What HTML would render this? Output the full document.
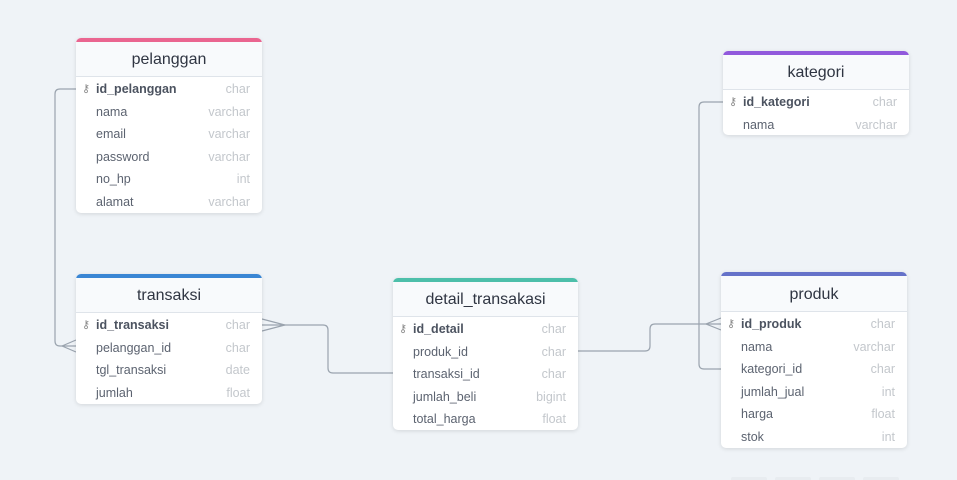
<!DOCTYPE html>
<html><head><meta charset="utf-8"><style>
body{margin:0;width:957px;height:480px;background:#eff3f7;position:relative;overflow:hidden;font-family:"Liberation Sans",sans-serif}
.t{position:absolute;background:#fff;border-radius:5px;box-shadow:0 1px 4px rgba(0,0,0,.12);overflow:hidden}
.h{height:34px;border-top:4px solid;background:#f8fafc;border-bottom:1px solid #dfe4ea;text-align:center;line-height:35px;font-size:16px;color:#2f3542}
.r{height:22.6px;line-height:22.6px;font-size:12.5px;color:#5c6370;padding-left:20px;padding-right:12px;position:relative}
.r span{position:absolute;right:12px;color:#c3c7cc;font-weight:normal}
.r.k{font-weight:bold;color:#4c5360}
.r.k:before{content:"\26B7";position:absolute;left:6px;font-weight:normal;color:#888;font-size:11px}
.rs{padding-top:1px}
svg{position:absolute;left:0;top:0}
</style></head><body>
<svg width="957" height="480" fill="none" stroke="#9aa3ae" stroke-width="1.2">
<path d="M76 89 H60 Q55 89 55 94 V341 Q55 346 60 346 H76"/>
<path d="M62 346 L76 340 M62 346 L76 352"/>
<path d="M262 325 H323 Q328 325 328 330 V368 Q328 373 333 373 H393"/>
<path d="M262 319 L285 325 L262 331"/>
<path d="M578 351 H645 Q650 351 650 346 V329 Q650 324 655 324 H721"/>
<path d="M721 318 L706 324 L721 330"/>
<path d="M723 102 H704 Q699 102 699 107 V364 Q699 369 704 369 H721"/>
<g fill="#e8ecf0" stroke="none"><rect x="731" y="477" width="36" height="6" rx="2"/><rect x="775" y="477" width="36" height="6" rx="2"/><rect x="819" y="477" width="36" height="6" rx="2"/><rect x="863" y="477" width="36" height="6" rx="2"/></g>
</svg>
<div class="t" style="left:76px;top:38px;width:186px;height:175px"><div class="h" style="border-top-color:#ea6590">pelanggan</div><div class="rs">
<div class="r k">id_pelanggan<span>char</span></div><div class="r">nama<span>varchar</span></div><div class="r">email<span>varchar</span></div><div class="r">password<span>varchar</span></div><div class="r">no_hp<span>int</span></div><div class="r">alamat<span>varchar</span></div></div></div>
<div class="t" style="left:76px;top:274px;width:186px;height:130px"><div class="h" style="border-top-color:#3a86d4">transaksi</div><div class="rs">
<div class="r k">id_transaksi<span>char</span></div><div class="r">pelanggan_id<span>char</span></div><div class="r">tgl_transaksi<span>date</span></div><div class="r">jumlah<span>float</span></div></div></div>
<div class="t" style="left:393px;top:278px;width:185px;height:152px"><div class="h" style="border-top-color:#4dbfaa">detail_transakasi</div><div class="rs">
<div class="r k">id_detail<span>char</span></div><div class="r">produk_id<span>char</span></div><div class="r">transaksi_id<span>char</span></div><div class="r">jumlah_beli<span>bigint</span></div><div class="r">total_harga<span>float</span></div></div></div>
<div class="t" style="left:723px;top:51px;width:186px;height:84px"><div class="h" style="border-top-color:#9159dc">kategori</div><div class="rs">
<div class="r k">id_kategori<span>char</span></div><div class="r">nama<span>varchar</span></div></div></div>
<div class="t" style="left:721px;top:272px;width:186px;height:176px"><div class="h" style="border-top-color:#6572c9;height:35px;line-height:37px">produk</div><div class="rs">
<div class="r k">id_produk<span>char</span></div><div class="r">nama<span>varchar</span></div><div class="r">kategori_id<span>char</span></div><div class="r">jumlah_jual<span>int</span></div><div class="r">harga<span>float</span></div><div class="r">stok<span>int</span></div></div></div>
</body></html>
